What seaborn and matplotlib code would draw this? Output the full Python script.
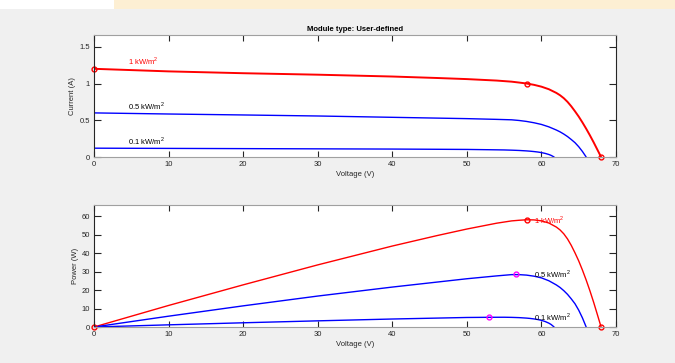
import numpy as np
import pandas as pd
import matplotlib
matplotlib.use("Agg")
import matplotlib.pyplot as plt
from matplotlib.patches import Rectangle
import seaborn as sns

# ---- data ----
v_1000 = [0, 10, 20, 30, 40, 46, 50, 54, 56, 57, 58, 59, 60, 61, 62, 62.5, 63, 63.5,
          64, 64.5, 65, 65.5, 66, 66.5, 67, 67.5, 68]
i_1000 = [1.20, 1.165, 1.14, 1.12, 1.095, 1.075, 1.06, 1.04, 1.025, 1.013, 1.00, 0.982,
          0.957, 0.922, 0.872, 0.840, 0.800, 0.750, 0.690, 0.622, 0.550, 0.470, 0.385,
          0.295, 0.200, 0.100, 0.0]
v_500 = [0, 10, 20, 30, 40, 50, 54, 56, 57, 58, 59, 60, 61, 62, 62.5, 63, 63.5, 64,
         64.5, 65, 65.5, 66.0]
i_500 = [0.60, 0.585, 0.572, 0.558, 0.54, 0.522, 0.512, 0.506, 0.497, 0.484, 0.466,
         0.443, 0.410, 0.367, 0.342, 0.312, 0.278, 0.238, 0.195, 0.140, 0.075, 0.0]
v_100 = [0, 10, 20, 30, 40, 50, 53, 55, 56, 57, 58, 58.5, 59, 59.5, 60, 60.5, 61,
         61.3, 61.7]
i_100 = [0.12, 0.117, 0.114, 0.111, 0.108, 0.103, 0.099, 0.096, 0.093, 0.089, 0.083,
         0.079, 0.074, 0.068, 0.060, 0.049, 0.034, 0.022, 0.0]

series_names = ["1 kW/m$^2$", "0.5 kW/m$^2$", "0.1 kW/m$^2$"]
mpp_v = [58, 56.6, 53]
mpp_i = [1.0, 0.503, 0.099]
mpp_p = [58, 28.5, 5.25]
voc_1000 = 68
isc_1000 = 1.2

x_ticks = [0, 10, 20, 30, 40, 50, 60, 70]
i_ticks = [0, 0.5, 1, 1.5]
i_tick_labels = ["0", "0.5", "1", "1.5"]
p_ticks = [0, 10, 20, 30, 40, 50, 60]

# ---- build data frames ----
frames = []
for name, v, i in zip(series_names, [v_1000, v_500, v_100], [i_1000, i_500, i_100]):
    v = np.asarray(v, float); i = np.asarray(i, float)
    frames.append(pd.DataFrame({"V": v, "I": i, "P": v * i, "series": name}))
df = pd.concat(frames, ignore_index=True)

sns.set_theme(style="white")
plt.rcParams["font.family"] = ["Liberation Sans", "DejaVu Sans"]
plt.rcParams["mathtext.fontset"] = "custom"
plt.rcParams["mathtext.rm"] = "Liberation Sans"

W, H = 675, 363
fig = plt.figure(figsize=(W / 100, H / 100), dpi=100, facecolor="#f0f0f0")

# top banner
fig.patches.append(Rectangle((0, 1 - 9 / H), 114 / W, 9 / H, transform=fig.transFigure,
                             facecolor="white", edgecolor="none", zorder=0))
fig.patches.append(Rectangle((114 / W, 1 - 9 / H), 1 - 114 / W, 9 / H, transform=fig.transFigure,
                             facecolor="#fdefd3", edgecolor="none", zorder=0))

ax1 = fig.add_axes([94 / W, 1 - 157 / H, 522 / W, 122 / H])
ax2 = fig.add_axes([94 / W, 1 - 327 / H, 522 / W, 122 / H])

palette = {series_names[0]: "#ff0000", series_names[1]: "#0000ff", series_names[2]: "#0000ff"}
fs = 5.5
dark = "#262626"

for name in series_names:
    sub = df[df["series"] == name]
    sns.lineplot(data=sub, x="V", y="I", ax=ax1, color=palette[name],
                 lw=1.4 if name == series_names[0] else 1.0, estimator=None, sort=False, legend=False)
    sns.lineplot(data=sub, x="V", y="P", ax=ax2, color=palette[name], lw=1.0,
                 estimator=None, sort=False, legend=False)

mk = dict(marker="o", ms=3.5, mfc="none", mew=1.0, ls="none", clip_on=False)
ax1.plot([0, mpp_v[0], voc_1000], [isc_1000, mpp_i[0], 0], color="#ff0000", **mk)
ax2.plot([0, mpp_v[0], voc_1000], [0, mpp_p[0], 0], color="#ff0000", **mk)
ax2.plot(mpp_v[1:], mpp_p[1:], color="#ff00ff", **mk)

# labels on curves
ax1.text(4.5, 1.30, series_names[0], color="#ff0000", fontsize=fs, va="center")
ax1.text(4.5, 0.69, series_names[1], color="black", fontsize=fs, va="center")
ax1.text(4.5, 0.22, series_names[2], color="black", fontsize=fs, va="center")
ax2.text(59, mpp_p[0], series_names[0], color="#ff0000", fontsize=fs, va="center")
ax2.text(59, mpp_p[1], series_names[1], color="black", fontsize=fs, va="center")
ax2.text(59, mpp_p[2], series_names[2], color="black", fontsize=fs, va="center")

for ax, yl, yt, ylab in [(ax1, (0, 1.66), i_ticks, "Current (A)"),
                         (ax2, (0, 66), p_ticks, "Power (W)")]:
    ax.set_facecolor("white")
    ax.set_xlim(0, 70)
    ax.set_ylim(*yl)
    ax.set_xticks(x_ticks)
    ax.set_xticklabels([str(t) for t in x_ticks])
    ax.set_yticks(yt)
    if ax is ax1:
        ax.set_yticklabels(i_tick_labels)
    ax.set_xlabel("Voltage (V)", fontsize=fs, color=dark, labelpad=2)
    ax.set_ylabel(ylab, fontsize=fs, color=dark, labelpad=2)
    for s in ["left", "right"]:
        ax.spines[s].set_color(dark)
        ax.spines[s].set_linewidth(0.8)
    for s in ["top", "bottom"]:
        ax.spines[s].set_color("#a0a0a0")
        ax.spines[s].set_linewidth(0.8)
    ax.tick_params(axis="x", which="major", direction="in", top=True, bottom=True,
                   length=4, width=0.8, color=dark, labelsize=fs, labelcolor=dark, pad=3)
    ax.tick_params(axis="y", which="major", direction="in", left=True, right=True,
                   length=5, width=0.8, color=dark, labelsize=fs, labelcolor=dark, pad=3)
    ax.grid(False)

ax1.set_title("Module type: User-defined", fontsize=fs, fontweight="bold", color="black", pad=3)

fig.savefig("out.png", dpi=100, facecolor=fig.get_facecolor())
